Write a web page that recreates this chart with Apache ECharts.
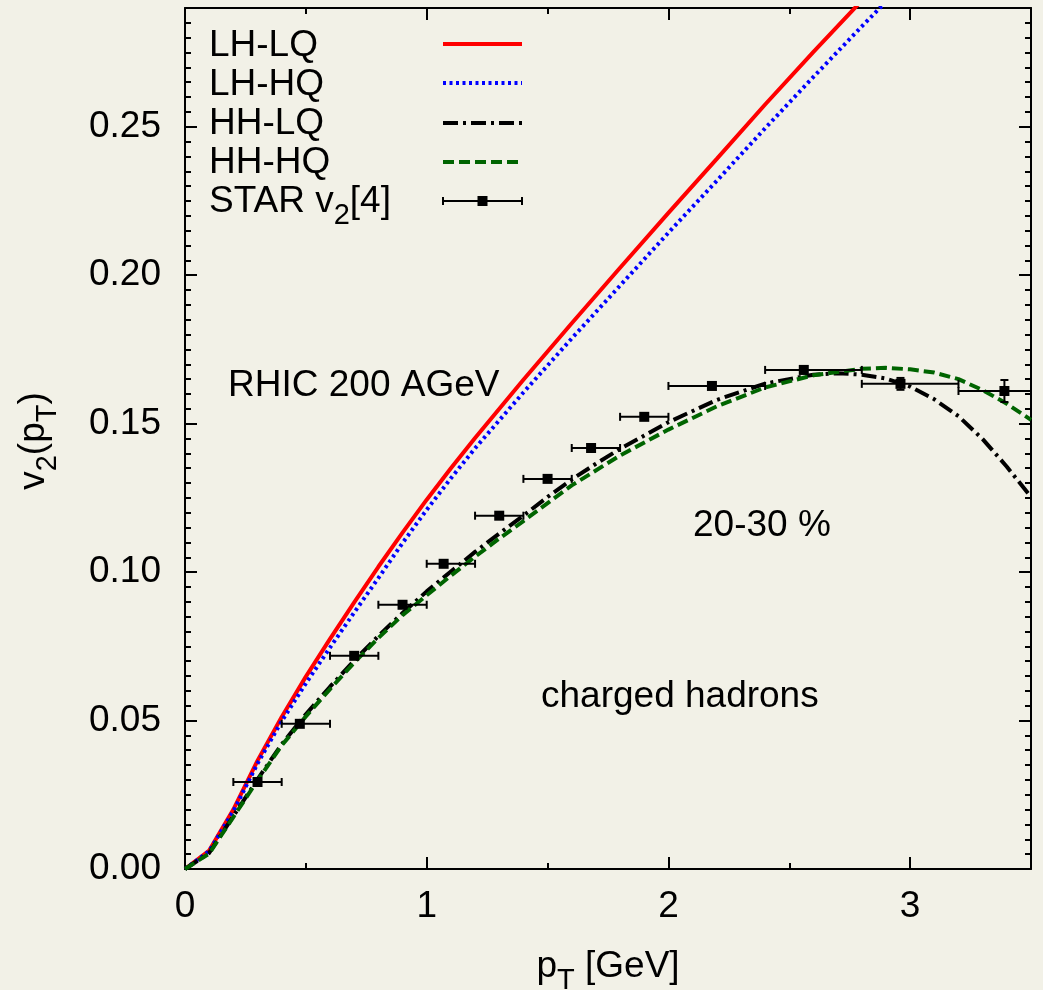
<!DOCTYPE html>
<html>
<head>
<meta charset="utf-8">
<script src="https://cdn.jsdelivr.net/npm/echarts@6/dist/echarts.min.js"></script>
<style>
html,body{margin:0;padding:0;background:#f2f1e7;}
#c{width:1043px;height:990px;}
</style>
</head>
<body>
<div id="c"></div>
<script>
// ---------- data ----------
const ptLH_LQ = [0, 0.1, 0.2, 0.3, 0.4, 0.5, 0.6, 0.7, 0.8, 0.9, 1.0, 1.1, 1.2, 1.4, 1.6, 1.8, 2.0, 2.2, 2.4, 2.6, 2.8, 2.9];
const v2LH_LQ = [0, 0.0062, 0.0200, 0.0365, 0.0512, 0.0648, 0.0775, 0.0898, 0.1018, 0.1133, 0.1244, 0.1350, 0.1452, 0.1648, 0.1838, 0.2025, 0.2210, 0.2392, 0.2575, 0.2752, 0.2925, 0.3010];

const ptLH_HQ = [0, 0.1, 0.2, 0.3, 0.4, 0.5, 0.6, 0.7, 0.8, 0.9, 1.0, 1.1, 1.2, 1.4, 1.6, 1.8, 2.0, 2.2, 2.4, 2.6, 2.8, 3.0];
const v2LH_HQ = [0, 0.0060, 0.0195, 0.0355, 0.0498, 0.0625, 0.0746, 0.0864, 0.0980, 0.1098, 0.1210, 0.1316, 0.1417, 0.1605, 0.1787, 0.1965, 0.2143, 0.2318, 0.2495, 0.2668, 0.2838, 0.3005];

const ptHH_LQ = [0, 0.1, 0.2, 0.3, 0.4, 0.5, 0.6, 0.7, 0.8, 0.9, 1.0, 1.1, 1.2, 1.3, 1.4, 1.5, 1.6, 1.7, 1.8, 1.9, 2.0, 2.2, 2.4, 2.6, 2.7, 2.8, 2.9, 3.0, 3.1, 3.2, 3.3, 3.4, 3.5];
const v2HH_LQ = [0, 0.0054, 0.0178, 0.0302, 0.0420, 0.0521, 0.0614, 0.0702, 0.0785, 0.0862, 0.0935, 0.1002, 0.1068, 0.1130, 0.1190, 0.1253, 0.1312, 0.1365, 0.1415, 0.1460, 0.1505, 0.1580, 0.1635, 0.1665, 0.1670, 0.1665, 0.1652, 0.1625, 0.1582, 0.1525, 0.1448, 0.1355, 0.1253];

const ptHH_HQ = [0, 0.1, 0.2, 0.3, 0.4, 0.5, 0.6, 0.7, 0.8, 0.9, 1.0, 1.1, 1.2, 1.3, 1.4, 1.6, 1.8, 2.0, 2.2, 2.4, 2.6, 2.8, 2.9, 3.0, 3.1, 3.2, 3.3, 3.4, 3.5];
const v2HH_HQ = [0, 0.0052, 0.0175, 0.0298, 0.0416, 0.0514, 0.0606, 0.0695, 0.0778, 0.0855, 0.0922, 0.0988, 0.1052, 0.1113, 0.1172, 0.1292, 0.1393, 0.1480, 0.1558, 0.1622, 0.1663, 0.1685, 0.1688, 0.1683, 0.1672, 0.1650, 0.1613, 0.1567, 0.1513];

// STAR v2[4] charged hadrons
const starPt   = [0.30, 0.475, 0.70, 0.90, 1.07, 1.30, 1.50, 1.68, 1.90, 2.18, 2.56, 2.96, 3.39];
const starV2   = [0.0293, 0.0489, 0.0718, 0.0890, 0.1028, 0.1190, 0.1314, 0.1418, 0.1523, 0.1627, 0.1681, 0.1634, 0.1610];
const starPtLo = [0.2, 0.4, 0.6, 0.8, 1.0, 1.2, 1.4, 1.6, 1.8, 2.0, 2.4, 2.8, 3.2];
const starPtHi = [0.4, 0.6, 0.8, 1.0, 1.2, 1.4, 1.6, 1.8, 2.0, 2.4, 2.8, 3.2, 3.6];
const starErr  = [0.001, 0.001, 0.001, 0.001, 0.001, 0.001, 0.001, 0.001, 0.001, 0.001, 0.0012, 0.0020, 0.0037];

const xTicksMajor = 1, xTicksMinor = 0.5, yTicksMajor = 0.05, yTicksMinor = 0.005;
const xMin = 0, xMax = 3.5, yMin = 0, yMax = 0.29;

// ---------- chart ----------
const FONT = 'Liberation Sans, Arial, Helvetica, sans-serif';
const FS = 37;
const chart = echarts.init(document.getElementById('c'), null, {renderer: 'canvas'});

function pairs(xs, ys) { return xs.map((x, i) => [x, ys[i]]); }

function xAxisDef(pos, interval, len, major) {
  return {
    type: 'value', min: xMin, max: xMax, interval: interval, position: pos,
    axisLine: {show: major, onZero: false, lineStyle: {color: '#000', width: 2}},
    axisTick: {show: true, inside: true, length: len, lineStyle: {color: '#000', width: 2}},
    axisLabel: {show: major && pos === 'bottom', color: '#000', fontSize: FS, fontFamily: FONT, margin: 19,
      showMaxLabel: false, formatter: v => String(v)},
    splitLine: {show: false}
  };
}
function yAxisDef(pos, interval, len, major) {
  return {
    type: 'value', min: yMin, max: yMax, interval: interval, position: pos,
    axisLine: {show: major, onZero: false, lineStyle: {color: '#000', width: 2}},
    axisTick: {show: true, inside: true, length: len, lineStyle: {color: '#000', width: 2}},
    axisLabel: {show: major && pos === 'left', color: '#000', fontSize: FS, fontFamily: FONT, margin: 24,
      showMaxLabel: false, formatter: v => v.toFixed(2)},
    splitLine: {show: false}
  };
}

const mainText = {fontSize: FS, fontFamily: FONT, color: '#000', lineHeight: 56, verticalAlign: 'middle'};
const subText = {fontSize: 29, fontFamily: FONT, color: '#000', lineHeight: 29, verticalAlign: 'bottom'};

function label(x, y, text, extra) {
  return Object.assign({
    type: 'text', x: x, y: y, silent: true, z: 100,
    style: {text: text, rich: {a: mainText, s: subText}, align: 'left', verticalAlign: 'middle',
      fontSize: FS, fontFamily: FONT, fill: '#000'}
  }, extra || {});
}

const legendY = [44, 83, 123, 162, 201];
const legX1 = 443, legX2 = 522;
function legLine(y, color, dash) {
  return {type: 'line', silent: true, z: 100,
    shape: {x1: legX1, y1: y, x2: legX2, y2: y},
    style: {stroke: color, lineWidth: 4, lineDash: dash || null, lineCap: 'butt'}};
}

const graphics = [
  label(209, 46, '{a|LH-LQ}'),
  label(209, 85, '{a|LH-HQ}'),
  label(209, 124, '{a|HH-LQ}'),
  label(209, 163, '{a|HH-HQ}'),
  label(209, 202, '{a|STAR v}{s|2}{a|[4]}'),
  legLine(legendY[0], '#ff0000'),
  legLine(legendY[1], '#0000ff', [3, 3.5]),
  legLine(legendY[2], '#000000', [15, 5, 3, 5]),
  legLine(legendY[3], '#006400', [11, 5]),
  {type: 'line', silent: true, z: 100, shape: {x1: legX1, y1: legendY[4], x2: legX2, y2: legendY[4]}, style: {stroke: '#000', lineWidth: 2}},
  {type: 'line', silent: true, z: 100, shape: {x1: legX1, y1: legendY[4] - 4, x2: legX1, y2: legendY[4] + 4}, style: {stroke: '#000', lineWidth: 2}},
  {type: 'line', silent: true, z: 100, shape: {x1: legX2, y1: legendY[4] - 4, x2: legX2, y2: legendY[4] + 4}, style: {stroke: '#000', lineWidth: 2}},
  {type: 'rect', silent: true, z: 100, shape: {x: (legX1 + legX2) / 2 - 5, y: legendY[4] - 5, width: 10, height: 10}, style: {fill: '#000'}},
  label(228, 386, '{a|RHIC 200 AGeV}'),
  label(693, 526, '{a|20-30 %}'),
  label(541, 697, '{a|charged hadrons}'),
  label(608, 967, '{a|p}{s|T}{a| [GeV]}', {style: {text: '{a|p}{s|T}{a| [GeV]}', rich: {a: mainText, s: subText}, align: 'center', verticalAlign: 'middle', fontSize: FS, fontFamily: FONT, fill: '#000'}}),
  {type: 'text', x: 34, y: 441, rotation: Math.PI / 2, silent: true, z: 100,
    style: {text: '{a|v}{s|2}{a|(p}{s|T}{a|)}', rich: {a: mainText, s: subText}, align: 'center', verticalAlign: 'middle', fontSize: FS, fontFamily: FONT, fill: '#000'}}
];

const starData = starPt.map((x, i) => [x, starV2[i], starPtLo[i], starPtHi[i], starErr[i]]);

const option = {
  animation: false,
  backgroundColor: '#f2f1e7',
  grid: {left: 185, top: 8, width: 846, height: 861, containLabel: false, show: false},
  xAxis: [
    xAxisDef('bottom', xTicksMajor, 12, true),
    xAxisDef('bottom', xTicksMinor, 6, false),
    xAxisDef('top', xTicksMajor, 12, true),
    xAxisDef('top', xTicksMinor, 6, false)
  ],
  yAxis: [
    yAxisDef('left', yTicksMajor, 12, true),
    yAxisDef('left', yTicksMinor, 6, false),
    yAxisDef('right', yTicksMajor, 12, true),
    yAxisDef('right', yTicksMinor, 6, false)
  ],
  series: [
    {name: 'LH-LQ', type: 'line', data: pairs(ptLH_LQ, v2LH_LQ), showSymbol: false, clip: true,
      lineStyle: {color: '#ff0000', width: 4}, z: 2},
    {name: 'LH-HQ', type: 'line', data: pairs(ptLH_HQ, v2LH_HQ), showSymbol: false, clip: true,
      lineStyle: {color: '#0000ff', width: 4, type: [3, 3.5]}, z: 3},
    {name: 'HH-LQ', type: 'line', data: pairs(ptHH_LQ, v2HH_LQ), showSymbol: false, clip: true,
      lineStyle: {color: '#000000', width: 4, type: [15, 5, 3, 5]}, z: 4},
    {name: 'HH-HQ', type: 'line', data: pairs(ptHH_HQ, v2HH_HQ), showSymbol: false, clip: true,
      lineStyle: {color: '#006400', width: 4, type: [11, 5]}, z: 5},
    {name: 'STAR v2[4]', type: 'custom', data: starData, z: 6, clip: true,
      encode: {x: 0, y: 1},
      renderItem: function (params, api) {
        const x = api.value(0), y = api.value(1), xl = api.value(2), xh = api.value(3), ye = api.value(4);
        const c = api.coord([x, y]);
        const pl = api.coord([xl, y]);
        const ph = api.coord([xh, y]);
        const pt = api.coord([x, y + ye]);
        const pb = api.coord([x, y - ye]);
        const cs = params.coordSys;
        const rEdge = cs.x + cs.width;
        const hx = Math.min(ph[0], rEdge);
        const st = {stroke: '#000', lineWidth: 2};
        const ch = [
          {type: 'line', shape: {x1: pl[0], y1: c[1], x2: hx, y2: c[1]}, style: st},
          {type: 'line', shape: {x1: pl[0], y1: c[1] - 4, x2: pl[0], y2: c[1] + 4}, style: st},
          {type: 'line', shape: {x1: c[0], y1: pt[1], x2: c[0], y2: pb[1]}, style: st},
          {type: 'line', shape: {x1: c[0] - 4, y1: pt[1], x2: c[0] + 4, y2: pt[1]}, style: st},
          {type: 'line', shape: {x1: c[0] - 4, y1: pb[1], x2: c[0] + 4, y2: pb[1]}, style: st},
          {type: 'rect', shape: {x: c[0] - 5, y: c[1] - 5, width: 10, height: 10}, style: {fill: '#000'}}
        ];
        if (ph[0] <= rEdge) {
          ch.push({type: 'line', shape: {x1: ph[0], y1: c[1] - 4, x2: ph[0], y2: c[1] + 4}, style: st});
        }
        return {type: 'group', children: ch};
      }
    }
  ],
  graphic: graphics
};
chart.setOption(option);
</script>
</body>
</html>
